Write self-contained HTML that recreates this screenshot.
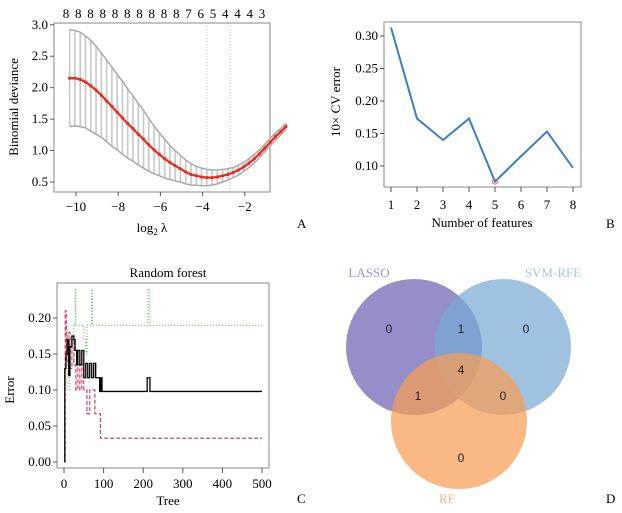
<!DOCTYPE html>
<html><head><meta charset="utf-8">
<style>
html,body{margin:0;padding:0;background:#fff;}
svg{display:block;font-family:"Liberation Serif",serif;}
</style></head>
<body>
<svg id="fig" width="622" height="513" viewBox="0 0 622 513" xmlns="http://www.w3.org/2000/svg">
<g id="pa"></g>
<g id="pb"></g>
<g id="pc"></g>
<g id="pd">
  <circle cx="414" cy="347" r="68" fill="rgba(108,98,180,0.72)"/>
  <circle cx="503" cy="347" r="68" fill="rgba(120,170,212,0.72)"/>
  <circle cx="459" cy="421" r="68" fill="rgba(248,158,84,0.72)"/>
  <text x="369" y="277" font-size="13" fill="#9b93cf" text-anchor="middle">LASSO</text>
  <text x="553" y="277" font-size="13" fill="#a6c8e3" text-anchor="middle">SVM-RFE</text>
  <text x="447" y="503" font-size="13" fill="#f6b47d" text-anchor="middle">RF</text>
  <g font-family="Liberation Sans, sans-serif" font-size="12" fill="#222" text-anchor="middle">
    <text x="389" y="333">0</text>
    <text x="461" y="333">1</text>
    <text x="526" y="333">0</text>
    <text x="461" y="374">4</text>
    <text x="418" y="400">1</text>
    <text x="503" y="400">0</text>
    <text x="461" y="462">0</text>
  </g>
  <text x="606" y="503" font-size="13">D</text>
</g>
</svg>
<script>
// ---------- Panel A data ----------
const lamStart = -10.3, lamStep = 0.25;
const lassoMean = [2.15,2.15,2.13,2.09,2.03,1.96,1.88,1.79,1.70,1.61,1.52,1.43,1.35,1.26,1.18,1.09,1.01,0.94,0.87,0.81,0.76,0.71,0.66,0.62,0.60,0.58,0.57,0.57,0.58,0.60,0.62,0.65,0.69,0.74,0.80,0.87,0.95,1.04,1.13,1.22,1.30,1.38];
const lassoSE = [0.77,0.76,0.75,0.73,0.72,0.70,0.67,0.65,0.63,0.60,0.58,0.55,0.52,0.49,0.46,0.42,0.38,0.34,0.31,0.27,0.24,0.21,0.19,0.17,0.15,0.14,0.13,0.12,0.11,0.10,0.09,0.08,0.08,0.07,0.07,0.07,0.06,0.06,0.06,0.06,0.05,0.05];
const topCounts = ["8","8","8","8","8","8","8","8","8","8","7","6","5","4","4","4","3"];
const aXTicks = [-10,-8,-6,-4,-2];
const aYTicks = ["0.5","1.0","1.5","2.0","2.5","3.0"];
const lambdaLines = [-3.8,-2.7];
// ---------- Panel B data ----------
const bFeatures = [1,2,3,4,5,6,7,8];
const bError = [0.313,0.173,0.140,0.173,0.076,0.115,0.153,0.097];
const bYTicks = ["0.10","0.15","0.20","0.25","0.30"];
// ---------- Panel C data ----------
const rfOOBTrees = [1,2,5,8,12,15,20,25,28,32,35,40,45,50,55,60,65,70,75,80,90,93,96,210,217,500];
const rfOOBErr = [0,0.13,0.15,0.17,0.12,0.16,0.175,0.17,0.155,0.135,0.155,0.135,0.155,0.117,0.137,0.117,0.137,0.117,0.137,0.117,0.098,0.117,0.098,0.117,0.098,0.098];
const rfC1Trees = [1,3,6,10,15,20,25,30,35,40,45,50,58,65,78,92,500];
const rfC1Err = [0,0.21,0.14,0.18,0.13,0.17,0.135,0.1,0.135,0.1,0.135,0.1,0.067,0.1,0.067,0.033,0.033];
const rfC2Trees = [1,5,10,15,20,25,28,30,45,50,55,58,70,72,212,217,500];
const rfC2Err = [0.1,0.19,0.1,0.17,0.14,0.19,0.24,0.19,0.19,0.17,0.15,0.19,0.24,0.19,0.24,0.19,0.19];
const cXTicks = [0,100,200,300,400,500];
const cYTicks = ["0.00","0.05","0.10","0.15","0.20"];

const NS="http://www.w3.org/2000/svg";
function mk(parent,tag,attrs,txt){const e=document.createElementNS(NS,tag);for(const k in attrs)e.setAttribute(k,attrs[k]);if(txt!==undefined)e.textContent=txt;parent.appendChild(e);return e;}

// ===== Panel A =====
(function(){
const g=document.getElementById('pa');
const ax=v=>76+(v+10)*21.1, ay=v=>182-(v-0.5)*62.9;
let b=mk(g,'rect',{x:54,y:23,width:216,height:169,fill:'none',stroke:'#888','stroke-width':1});

lambdaLines.forEach(v=>{const l=mk(g,'line',{x1:ax(v),x2:ax(v),y1:23,y2:192,stroke:'#bbb','stroke-dasharray':'1,2'});
});
let up='',lo='';
lassoMean.forEach((m,i)=>{const x=ax(lamStart+i*lamStep);const s=lassoSE[i];
const e=mk(g,'line',{x1:x,x2:x,y1:ay(m+s),y2:ay(m-s),stroke:'#c8c8c8','stroke-width':1.6});

up+=(i?'L':'M')+x+','+ay(m+s);lo+=(i?'L':'M')+x+','+ay(m-s);});
let p=mk(g,'path',{d:up,fill:'none',stroke:'#aaa','stroke-width':1.5});
p=mk(g,'path',{d:lo,fill:'none',stroke:'#aaa','stroke-width':1.5});
let d='';lassoMean.forEach((m,i)=>{d+=(i?'L':'M')+ax(lamStart+i*lamStep)+','+ay(m);});
p=mk(g,'path',{d:d,fill:'none',stroke:'#e8291c','stroke-width':2.2});
lassoMean.forEach((m,i)=>{const c=mk(g,'circle',{cx:ax(lamStart+i*lamStep),cy:ay(m),r:1.6,fill:'#f02a1a'});
});
aXTicks.forEach(v=>{const t=mk(g,'line',{x1:ax(v),x2:ax(v),y1:192,y2:196,stroke:'#555'});
const tx=mk(g,'text',{x:ax(v),y:211,'font-size':13,'text-anchor':'middle'},'\u2212'+Math.abs(v));});
aYTicks.forEach(v=>{const y=ay(parseFloat(v));const t=mk(g,'line',{x1:50,x2:54,y1:y,y2:y,stroke:'#555'});
const tx=mk(g,'text',{x:48,y:y+4,'font-size':13,'text-anchor':'end'},v);});
topCounts.forEach((c,i)=>{const tx=mk(g,'text',{x:66+i*(196/16),y:18,'font-size':13,'text-anchor':'middle'},c);
});
let t=mk(g,'text',{x:152,y:232,'font-size':13,'text-anchor':'middle'});
t.innerHTML='log<tspan font-size="9" dy="3">2</tspan><tspan dy="-3"> \u03bb</tspan>';
t=mk(g,'text',{x:18,y:107,'font-size':13,'text-anchor':'middle',transform:'rotate(-90 18 107)'},'Binomial deviance');
t=mk(g,'text',{x:297,y:228,'font-size':13},'A');
})();

// ===== Panel B =====
(function(){
const g=document.getElementById('pb');
const bx=v=>391+(v-1)*26, by=v=>166-(v-0.10)*650;
let r=mk(g,'rect',{x:384,y:22,width:197,height:165,fill:'none',stroke:'#888'});
let d='';bError.forEach((v,i)=>{d+=(i?'L':'M')+bx(bFeatures[i])+','+by(v);});
let p=mk(g,'path',{d:d,fill:'none',stroke:'#3c7fc6','stroke-width':2});
let mi=bError.indexOf(Math.min(...bError));
let c=mk(g,'circle',{cx:bx(bFeatures[mi]),cy:by(bError[mi]),r:2.5,fill:'none',stroke:'#e06070'});
bFeatures.forEach(v=>{const t=mk(g,'line',{x1:bx(v),x2:bx(v),y1:187,y2:192,stroke:'#555'});
const tx=mk(g,'text',{x:bx(v),y:209,'font-size':13,'text-anchor':'middle'},String(v));});
bYTicks.forEach(v=>{const y=by(parseFloat(v));const t=mk(g,'line',{x1:380,x2:384,y1:y,y2:y,stroke:'#555'});
const tx=mk(g,'text',{x:378,y:y+4,'font-size':13,'text-anchor':'end'},v);});
let t=mk(g,'text',{x:482,y:227,'font-size':13,'text-anchor':'middle'},'Number of features');
t=mk(g,'text',{x:340,y:102,'font-size':13,'text-anchor':'middle',transform:'rotate(-90 340 102)'},'10\u00d7 CV error');
t=mk(g,'text',{x:606,y:228,'font-size':13},'B');
})();

// ===== Panel C =====
(function(){
const g=document.getElementById('pc');
const cx=v=>64+v*0.396, cy=v=>462-v*720;
let r=mk(g,'rect',{x:57,y:283,width:212,height:185,fill:'none',stroke:'#888'});
function step(tr,er){let d='';tr.forEach((t,i)=>{if(i===0)d+='M'+cx(t)+','+cy(er[i]);else d+='L'+cx(t)+','+cy(er[i-1])+'L'+cx(t)+','+cy(er[i]);});return d;}
let p=mk(g,'path',{d:step(rfC2Trees,rfC2Err),fill:'none',stroke:'#4caf50','stroke-width':1,'stroke-dasharray':'1,2'});
p=mk(g,'path',{d:step(rfC1Trees,rfC1Err),fill:'none',stroke:'#d6456a','stroke-width':1.2,'stroke-dasharray':'4,2'});
p=mk(g,'path',{d:step(rfOOBTrees,rfOOBErr),fill:'none',stroke:'#000','stroke-width':1.3});
cXTicks.forEach(v=>{const t=mk(g,'line',{x1:cx(v),x2:cx(v),y1:468,y2:473,stroke:'#555'});
const tx=mk(g,'text',{x:cx(v),y:488,'font-size':13,'text-anchor':'middle'},String(v));});
cYTicks.forEach(v=>{const y=cy(parseFloat(v));const t=mk(g,'line',{x1:53,x2:57,y1:y,y2:y,stroke:'#555'});
const tx=mk(g,'text',{x:51,y:y+4,'font-size':13,'text-anchor':'end'},v);});
let t=mk(g,'text',{x:168,y:277,'font-size':13,'text-anchor':'middle'},'Random forest');
t=mk(g,'text',{x:168,y:505,'font-size':13,'text-anchor':'middle'},'Tree');
t=mk(g,'text',{x:14,y:390,'font-size':13,'text-anchor':'middle',transform:'rotate(-90 14 390)'},'Error');
t=mk(g,'text',{x:297,y:503,'font-size':13},'C');
})();
</script>
</body></html>
